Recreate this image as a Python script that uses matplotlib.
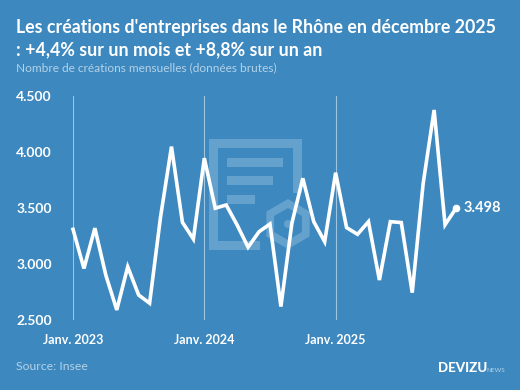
"""Monthly business creations in the Rhone, in the Devizu chart style."""

import matplotlib
matplotlib.use("Agg")
import matplotlib.pyplot as plt
from matplotlib.patches import Circle, Polygon, Rectangle
from matplotlib.ticker import FuncFormatter
import numpy as np

BG = "#3d88bf"
WHITE = "#ffffff"
SOFT = "#b4d2e8"
MARK = "#64a1cd"
GRID = "#9fc5e0"

W, H = 520, 390

creations = [
    3310, 2960, 3320, 2900, 2590, 2975, 2723, 2650, 3420, 4048, 3372, 3223,
    3945, 3498, 3527, 3348, 3150, 3288, 3357, 2620, 3363, 3765, 3378, 3199,
    3815, 3325, 3265, 3378, 2857, 3378, 3370, 2744, 3720, 4375, 3350, 3498,
]
y_ticks = [2500, 3000, 3500, 4000, 4500]
x_ticks = [0, 12, 24]
x_labels = ["Janv. 2023", "Janv. 2024", "Janv. 2025"]

plt.rcParams["font.family"] = ["Lato", "DejaVu Sans"]

fig = plt.figure(figsize=(W / 100, H / 100), dpi=100, facecolor=BG)

# Faint logo behind the chart, drawn in pixel coordinates
bg_ax = fig.add_axes([0, 0, 1, 1], zorder=0)
bg_ax.set_xlim(0, W)
bg_ax.set_ylim(H, 0)
bg_ax.axis("off")
bg_ax.add_patch(Polygon(
    [(209, 139), (302, 139), (302, 193), (293, 193), (293, 148), (218, 148),
     (218, 241), (260, 241), (260, 250), (209, 250)],
    facecolor=MARK, edgecolor="none"))
for bx, by, bw in [(227, 158, 56), (227, 176, 46), (227, 195, 28)]:
    bg_ax.add_patch(Rectangle((bx, by), bw, 9, facecolor=MARK, edgecolor="none"))
angles = np.radians(np.arange(30, 390, 60))
for radius, colour in [(25, MARK), (16, BG)]:
    hexagon = np.column_stack([288 + radius * np.cos(angles), 224 + radius * np.sin(angles)])
    bg_ax.add_patch(Polygon(hexagon, facecolor=colour, edgecolor="none"))
bg_ax.add_patch(Circle((288, 224), 4, facecolor=MARK, edgecolor="none"))

# Chart area: Jan. 2023 sits at x=73, Dec. 2025 at x=456
ax = fig.add_axes([73 / W, 1 - 320 / H, (456 - 73) / W, 224 / H], zorder=1)
ax.patch.set_visible(False)
months = np.arange(len(creations))
ax.plot(months, creations, color=WHITE, linewidth=2.6, solid_joinstyle="miter",
        clip_on=False, zorder=3)
ax.plot(months[-1], creations[-1], "o", color=WHITE, markersize=4.5, clip_on=False, zorder=4)
ax.text(months[-1] + 0.65, creations[-1], f"{creations[-1]:,}".replace(",", "."),
        color=WHITE, fontsize=10.5, fontweight="bold", va="center", ha="left")

ax.set_xlim(0, len(creations) - 1)
ax.set_ylim(2500, 4500)
ax.set_xticks(x_ticks)
ax.set_xticklabels(x_labels)
ax.set_yticks(y_ticks)
ax.yaxis.set_major_formatter(FuncFormatter(lambda v, _: f"{int(v):,}".replace(",", ".")))
ax.grid(axis="x", color=GRID, linewidth=0.8)
ax.set_axisbelow(True)
for spine in ax.spines.values():
    spine.set_visible(False)
ax.tick_params(axis="x", length=0, pad=10, colors=WHITE, labelsize=9)
ax.tick_params(axis="y", length=0, pad=41, colors=WHITE, labelsize=10)
for label in ax.get_xticklabels():
    label.set_fontweight("bold")
for label in ax.get_yticklabels():
    label.set_fontweight("bold")
    label.set_ha("left")

fig.text(16 / W, 1 - 27 / H, "Les créations d'entreprises dans le Rhône en décembre 2025",
         color=WHITE, fontsize=12.77, fontweight="bold", va="center")
fig.text(16 / W, 1 - 50 / H, ": +4,4% sur un mois et +8,8% sur un an",
         color=WHITE, fontsize=12.77, fontweight="bold", va="center")
fig.text(16 / W, 1 - 68 / H, "Nombre de créations mensuelles (données brutes)",
         color=SOFT, fontsize=8.6, va="center")
fig.text(16 / W, 1 - 366 / H, "Source: Insee", color=SOFT, fontsize=8.8, va="center")
fig.text(438 / W, 1 - 368 / H, "DEVIZU", color=WHITE, fontsize=9.6, fontweight="black", va="center")
fig.text(486 / W, 1 - 370 / H, "NEWS", color=SOFT, fontsize=4.6, va="center")

fig.savefig("out.png", dpi=100, facecolor=BG)
plt.close(fig)
